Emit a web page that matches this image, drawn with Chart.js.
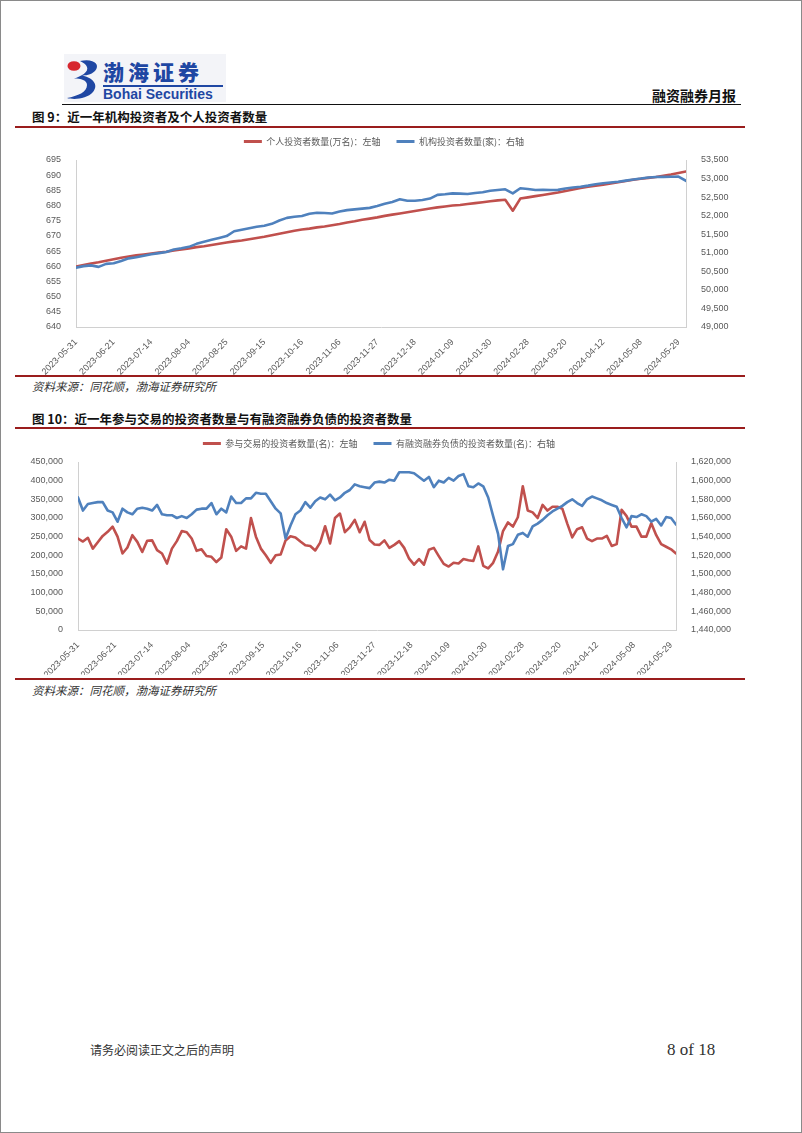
<!DOCTYPE html>
<html lang="zh-CN">
<head>
<meta charset="utf-8">
<title>融资融券月报</title>
<script src="https://cdn.jsdelivr.net/npm/chart.js@4/dist/chart.umd.min.js"></script>
<style>
  html, body { margin: 0; padding: 0; background: #fff; }
  #page { position: relative; width: 802px; height: 1133px; overflow: hidden; background: #fff; }
  .frame { position: absolute; left: 0; top: 0; width: 800px; height: 1131px; border: 1px solid #8a8a8a; }
  .abs { position: absolute; white-space: nowrap; }
  .cjk { font-family: 'Noto Sans CJK SC', 'Noto Sans', sans-serif; }
  .title { font-size: 12.5px; font-weight: 700; color: #111; line-height: 13px; }
  .src { font-size: 11.5px; font-style: italic; color: #333; line-height: 12px; }
  .rule { position: absolute; left: 15px; width: 730px; height: 2px; background: #9a1d1d; }
  canvas { position: absolute; }
</style>
</head>
<body>
<div id="page">
  <div class="frame"></div>

  <!-- logo -->
  <div class="abs" style="left:64px;top:54px;width:162px;height:48px;background:#f3f4f8;"></div>
  <svg class="abs" style="left:66px;top:58px" width="36" height="42" viewBox="0 0 36 42">
    <ellipse cx="8" cy="8" rx="6.5" ry="4.8" fill="#d7282f"/>
    <path d="M14 3 C27 0 35 6 29 13 C25 17 19 17.5 16 17.5 C27 19.5 33 27 27 34 C21 41 8 42 1 40 C12 38 21 34 21 27 C21 22 15 20.5 8 20.5 C15 18.5 23 14 21 9 C20 6 17 4.5 14 3 Z" fill="#1f47a3"/>
  </svg>
  <div class="abs cjk" style="left:103px;top:60px;font-size:21px;font-weight:900;color:#1f47a3;letter-spacing:4px;line-height:22px;">渤海证券</div>
  <div class="abs" style="left:103px;top:85px;width:120px;height:2px;background:#1f47a3;"></div>
  <div class="abs" style="left:103px;top:87px;font-family:'Liberation Sans',Arial,sans-serif;font-size:14px;font-weight:700;color:#1f47a3;line-height:14px;">Bohai Securities</div>

  <div class="abs cjk" style="right:66px;top:88px;font-size:14px;font-weight:700;color:#111;line-height:14px;">融资融券月报</div>
  <div class="abs" style="left:62px;top:104px;width:679px;height:1px;background:#111;"></div>

  <!-- figure 9 -->
  <div class="abs cjk title" style="left:32px;top:110px;">图 9：近一年机构投资者及个人投资者数量</div>
  <div class="rule" style="top:126px;"></div>
  <canvas id="c1" width="740" height="248" style="left:20px;top:127px;"></canvas>
  <div class="rule" style="top:375px;"></div>
  <div class="abs cjk src" style="left:32px;top:380px;">资料来源：同花顺，渤海证券研究所</div>

  <!-- figure 10 -->
  <div class="abs cjk title" style="left:32px;top:412px;">图 10：近一年参与交易的投资者数量与有融资融券负债的投资者数量</div>
  <div class="rule" style="top:427px;"></div>
  <canvas id="c2" width="740" height="246" style="left:20px;top:429px;"></canvas>
  <div class="rule" style="top:678px;"></div>
  <div class="abs cjk src" style="left:32px;top:684px;">资料来源：同花顺，渤海证券研究所</div>

  <!-- footer -->
  <div class="abs cjk" style="left:90px;top:1044px;font-size:12px;color:#333;line-height:12px;">请务必阅读正文之后的声明</div>
  <div class="abs" style="left:667px;top:1042px;font-family:'Liberation Serif',serif;font-size:17px;font-weight:400;color:#333;line-height:16px;">8 of 18</div>
</div>

<script>
// ---------- data ----------
const tickLabels = ['2023-05-31','2023-06-21','2023-07-14','2023-08-04','2023-08-25','2023-09-15','2023-10-16','2023-11-06','2023-11-27','2023-12-18','2024-01-09','2024-01-30','2024-02-28','2024-03-20','2024-04-12','2024-05-08','2024-05-29'];
const tickEvery = 15;              // trading days between labelled dates

// Figure 9: one value every 3 trading days
const fig9Step = 3;
const individualInvestors = [ // 万名, left axis
  659.9,660.4,660.9,661.3,661.8,662.3,662.8,663.2,663.6,663.9,
  664.2,664.5,664.8,665.2,665.5,665.9,666.3,666.6,667.0,667.4,
  667.8,668.2,668.5,668.9,669.3,669.7,670.2,670.7,671.2,671.7,
  672.1,672.4,672.8,673.1,673.5,673.9,674.4,674.8,675.3,675.7,
  676.1,676.6,677.0,677.4,677.8,678.2,678.6,679.0,679.4,679.7,
  680.0,680.2,680.5,680.8,681.1,681.4,681.7,681.9,678.3,682.3,
  682.7,683.1,683.5,683.9,684.3,684.8,685.3,685.8,686.2,686.5,
  686.9,687.3,687.7,688.1,688.5,688.8,689.1,689.4,689.8,690.2,
  690.7,691.2
];
const institutionalInvestors = [ // 家, right axis
  50600,50640,50660,50620,50700,50720,50780,50850,50880,50920,
  50960,50990,51020,51090,51120,51160,51240,51300,51350,51400,
  51450,51580,51620,51660,51700,51730,51780,51870,51940,51970,
  51990,52050,52080,52070,52060,52110,52150,52170,52190,52210,
  52260,52320,52370,52440,52400,52400,52420,52460,52560,52575,
  52600,52595,52585,52610,52630,52670,52690,52710,52600,52740,
  52720,52690,52700,52690,52695,52730,52760,52780,52810,52845,
  52875,52895,52915,52945,52975,53000,53030,53040,53045,53050,
  53055,52940
];

// Figure 10: one value every 2 trading days
const fig10Step = 2;
const tradingInvestors = [ // 名, left axis
  245000,237000,247000,218000,235000,252000,263000,277000,250000,205000,
  221000,254000,236000,209000,239000,240000,214000,205000,178000,218000,
  238000,265000,262000,245000,212000,216000,198000,196000,182000,194000,
  270000,250000,212000,224000,218000,300000,250000,218000,200000,180000,
  200000,202000,240000,251000,248000,237000,227000,225000,213000,234000,
  278000,232000,300000,312000,262000,275000,295000,262000,290000,241000,
  229000,228000,240000,220000,228000,238000,220000,191000,175000,190000,
  175000,215000,220000,198000,177000,170000,180000,178000,190000,187000,
  185000,224000,172000,165000,180000,210000,265000,288000,277000,302000,
  385000,320000,315000,300000,335000,320000,330000,330000,325000,285000,
  248000,270000,275000,245000,238000,245000,245000,252000,225000,230000,
  322000,305000,277000,277000,250000,250000,286000,254000,230000,223000,
  216000,205000
];
const indebtedInvestors = [ // 名, right axis
  1582000,1568000,1575000,1576000,1577000,1577000,1568000,1566000,1556000,1570000,
  1566000,1564000,1570000,1571000,1570000,1568000,1574000,1564000,1563000,1563000,
  1560000,1562000,1560000,1564000,1569000,1570000,1570000,1576000,1564000,1570000,
  1566000,1583000,1576000,1576000,1581000,1581000,1587000,1586000,1586000,1578000,
  1570000,1565000,1538000,1552000,1564000,1568000,1577000,1571000,1578000,1582000,
  1580000,1585000,1579000,1582000,1587000,1590000,1596000,1594000,1593000,1592000,
  1598000,1599000,1598000,1601000,1600000,1609000,1609000,1609000,1608000,1604000,
  1600000,1604000,1593000,1600000,1598000,1603000,1600000,1605000,1607000,1594000,
  1593000,1597000,1594000,1582000,1562000,1543000,1505000,1530000,1532000,1542000,
  1544000,1540000,1551000,1554000,1558000,1563000,1567000,1570000,1573000,1577000,
  1580000,1576000,1573000,1580000,1583000,1581000,1579000,1576000,1574000,1572000,
  1560000,1550000,1562000,1561000,1564000,1562000,1556000,1559000,1552000,1561000,
  1560000,1553000
];

// ---------- drawing ----------
const RED = '#C0504D';
const BLUE = '#4F81BD';
const AXIS = '#d0d0d0';
Chart.defaults.font.family = "'Liberation Sans', Arial, sans-serif";
Chart.defaults.font.size = 9;
Chart.defaults.color = '#595959';

const toPoints = (vals, step) => vals.map((v, k) => ({ x: k * step, y: v }));
const fmt = v => Number(v).toLocaleString('en-US');

const legendFit = h => ({
  id: 'legendFit',
  beforeInit(chart) {
    const lg = chart.legend;
    const orig = lg.fit;
    lg.fit = function () { orig.call(this); this.height = h; };
  }
});

function dualLineChart(id, o) {
  return new Chart(document.getElementById(id), {
    type: 'line',
    data: {
      datasets: [
        { label: o.leftLabel, data: toPoints(o.left, o.step), borderColor: RED, backgroundColor: RED, yAxisID: 'y', order: 1 },
        { label: o.rightLabel, data: toPoints(o.right, o.step), borderColor: BLUE, backgroundColor: BLUE, yAxisID: 'y1', order: 0 }
      ]
    },
    options: {
      responsive: false,
      animation: false,
      devicePixelRatio: 1,
      layout: { padding: { left: 0, right: o.padRight, top: 0, bottom: 0 } },
      elements: { point: { radius: 0 }, line: { borderWidth: 2.6, tension: 0, borderJoinStyle: 'round', borderCapStyle: 'round' } },
      plugins: {
        tooltip: { enabled: false },
        legend: {
          position: 'top',
          labels: {
            boxWidth: 18, boxHeight: 3, padding: 10, color: '#595959',
            font: { family: "'Noto Sans CJK SC', sans-serif", size: 9 },
            generateLabels(chart) {
              return Chart.defaults.plugins.legend.labels.generateLabels(chart)
                .sort((a, b) => a.datasetIndex - b.datasetIndex)
                .map(it => Object.assign(it, {
                  lineWidth: 0,
                  fillStyle: chart.data.datasets[it.datasetIndex].borderColor,
                  strokeStyle: chart.data.datasets[it.datasetIndex].borderColor,
                  text: it.text + '   '
                }));
            }
          }
        }
      },
      scales: {
        x: {
          type: 'linear', min: 0, max: o.xMax,
          grid: { display: false },
          border: { display: true, color: AXIS, width: 1 },
          afterBuildTicks(s) { s.ticks = tickLabels.map((_, k) => ({ value: k * tickEvery })); },
          afterFit(s) { s.height = o.xHeight; },
          ticks: { autoSkip: false, minRotation: 45, maxRotation: 45, padding: 2, callback: v => tickLabels[Math.round(v / tickEvery)] }
        },
        y: {
          position: 'left', min: o.yMin, max: o.yMax,
          grid: { display: false },
          border: { display: true, color: AXIS, width: 1 },
          afterFit(s) { s.width = o.leftW; },
          ticks: { stepSize: o.yStep, padding: 7, callback: o.leftFmt }
        },
        y1: {
          position: 'right', min: o.y1Min, max: o.y1Max,
          grid: { display: false },
          border: { display: true, color: AXIS, width: 1 },
          afterFit(s) { s.width = o.rightW; },
          ticks: { stepSize: o.y1Step, padding: 7, callback: fmt }
        }
      }
    },
    plugins: [legendFit(33)]
  });
}

dualLineChart('c1', {
  leftLabel: '个人投资者数量(万名)：左轴', rightLabel: '机构投资者数量(家)：右轴',
  left: individualInvestors, right: institutionalInvestors, step: fig9Step,
  xMax: 243, xHeight: 48, leftW: 56, rightW: 68, padRight: 6,
  yMin: 640, yMax: 695, yStep: 5, leftFmt: v => v,
  y1Min: 49000, y1Max: 53500, y1Step: 500
});

dualLineChart('c2', {
  leftLabel: '参与交易的投资者数量(名)：左轴', rightLabel: '有融资融券负债的投资者数量(名)：右轴',
  left: tradingInvestors, right: indebtedInvestors, step: fig10Step,
  xMax: 242, xHeight: 45, leftW: 58, rightW: 68, padRight: 16,
  yMin: 0, yMax: 450000, yStep: 50000, leftFmt: fmt,
  y1Min: 1440000, y1Max: 1620000, y1Step: 20000
});
</script>
</body>
</html>
